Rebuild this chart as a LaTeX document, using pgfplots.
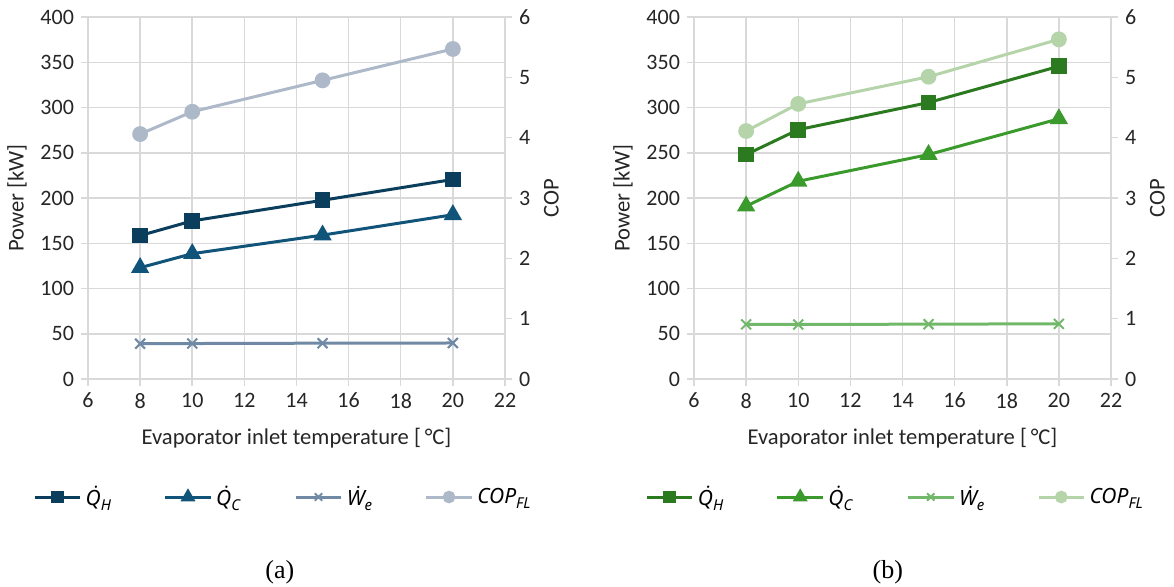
\documentclass[border=0pt]{standalone}
\usepackage{fontspec}
\setmainfont{Carlito}
\newfontfamily\capfont{Liberation Serif}
\newfontfamily\legfont{Noto Sans}
\usepackage{pgfplots}
\pgfplotsset{compat=1.18}

% colours
\definecolor{gridc}{HTML}{D9D9D9}
\definecolor{txt}{HTML}{262626}
\definecolor{bQH}{HTML}{0B3D5C}
\definecolor{bQC}{HTML}{11547A}
\definecolor{bWE}{HTML}{7089A5}
\definecolor{bCOP}{HTML}{ADB8C9}
\definecolor{gQH}{HTML}{2B7A1F}
\definecolor{gQC}{HTML}{3B9A2C}
\definecolor{gWE}{HTML}{72B86A}
\definecolor{gCOP}{HTML}{B5D4AA}

\pgfplotsset{
  base/.style={
    scale only axis, width=208.5pt, height=181pt,
    xmin=6, xmax=22, xtick distance=2,
    tick align=outside, major tick length=3.5pt,
    tick style={gridc, line width=0.75pt},
    axis line style={gridc, line width=0.75pt},
    ticklabel style={font=\fontsize{11}{13}\selectfont, text=txt},
    label style={font=\fontsize{11.3}{13}\selectfont, text=txt},
    /pgf/number format/assume math mode=true,
    clip=false,
  },
  pw/.style={base, ymin=0, ymax=400, ytick distance=50,
    grid=major, grid style={gridc, line width=0.75pt},
    xtick pos=bottom, ytick pos=left,
    ylabel={Power [kW]},
    xlabel style={yshift=-3pt},
    xlabel={Evaporator inlet temperature [\,°C]}},
  cp/.style={base, ymin=0, ymax=6, ytick distance=1,
    axis x line=none, axis y line*=right, ylabel={COP},
    legend columns=4,
    legend style={draw=none, fill=none, at={(#1,-0.326)}, anchor=center,
      font=\legfont\fontsize{10.5}{12}\selectfont,
      /tikz/every even column/.append style={column sep=4pt}},
    legend image code/.code={
      \draw[mark repeat=2, mark phase=2, ##1, every mark/.append style={scale=0.75}]
        plot coordinates {(0cm,0cm) (0.4cm,0cm) (0.8cm,0cm)};}},
  lQH/.style={color=#1, line width=1.5pt, mark=square*, mark size=3.2pt},
  lQC/.style={color=#1, line width=1.5pt, mark=triangle*, mark size=3.8pt},
  lWE/.style={color=#1, line width=1.5pt, mark=x, mark size=3.5pt, mark options={line width=1pt}},
  lCOP/.style={color=#1, line width=1.5pt, mark=*, mark size=3.2pt},
}
\newcommand{\sub}[1]{\raisebox{-0.5ex}{\fontsize{7.5}{9}\selectfont\itshape #1}}
\newcommand{\lab}[1]{\makebox[33pt][l]{\itshape #1}}

\begin{document}
\begin{tikzpicture}
\path[use as bounding box] (-44pt,-103.5pt) rectangle (543pt,189.5pt);

% ---------- (a) ----------
\begin{axis}[pw, at={(0,0)}, anchor=south west]
  \addplot[lQH=bQH] coordinates {(8,158.5) (10,174.7) (15,197.5) (20,220.5)};
  \addplot[lQC=bQC] coordinates {(8,123) (10,138.5) (15,159) (20,181.5)};
  \addplot[lWE=bWE] coordinates {(8,39) (10,39.2) (15,39.6) (20,39.8)};
\end{axis}
\begin{axis}[cp=0.485, at={(0,0)}, anchor=south west]
  \addlegendimage{lQH=bQH} \addlegendentry{\lab{Q̇\sub{H}}}
  \addlegendimage{lQC=bQC} \addlegendentry{\lab{Q̇\sub{C}}}
  \addlegendimage{lWE=bWE} \addlegendentry{\lab{Ẇ\sub{e}}}
  \addplot[lCOP=bCOP] coordinates {(8,4.06) (10,4.43) (15,4.95) (20,5.47)};
  \addlegendentry{\lab{COP\sub{FL}}}
  \node[font=\capfont\fontsize{13}{15}\selectfont] at (rel axis cs:0.46,-0.533) {(a)};
\end{axis}

% ---------- (b) ----------
\begin{axis}[pw, at={(303pt,0)}, anchor=south west]
  \addplot[lQH=gQH] coordinates {(8,248) (10,275.5) (15,305.5) (20,345.5)};
  \addplot[lQC=gQC] coordinates {(8,191) (10,218.5) (15,248) (20,287.5)};
  \addplot[lWE=gWE] coordinates {(8,60.3) (10,60.3) (15,60.6) (20,61)};
\end{axis}
\begin{axis}[cp=0.5, at={(303pt,0)}, anchor=south west]
  \addlegendimage{lQH=gQH} \addlegendentry{\lab{Q̇\sub{H}}}
  \addlegendimage{lQC=gQC} \addlegendentry{\lab{Q̇\sub{C}}}
  \addlegendimage{lWE=gWE} \addlegendentry{\lab{Ẇ\sub{e}}}
  \addplot[lCOP=gCOP] coordinates {(8,4.11) (10,4.56) (15,5.01) (20,5.63)};
  \addlegendentry{\lab{COP\sub{FL}}}
  \node[font=\capfont\fontsize{13}{15}\selectfont] at (rel axis cs:0.465,-0.533) {(b)};
\end{axis}
\end{tikzpicture}
\end{document}
